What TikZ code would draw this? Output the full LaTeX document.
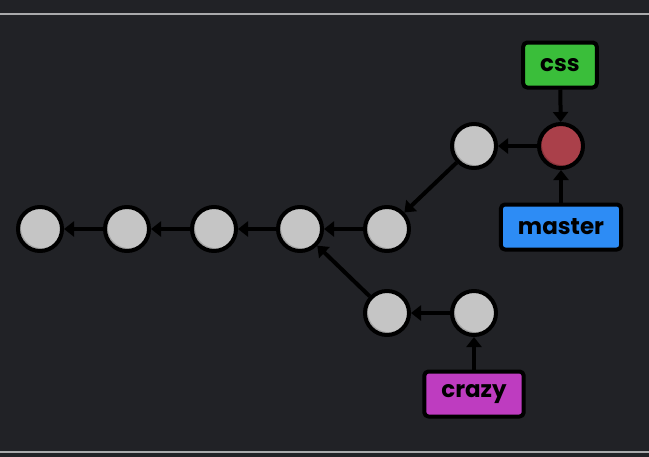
\documentclass[tikz,border=0pt]{standalone}
\usepackage{fontspec}
\setmainfont{Poppins}
\usetikzlibrary{arrows.meta}
\definecolor{bgdark}{RGB}{33,34,38}
\definecolor{rulegray}{RGB}{170,170,172}
\definecolor{commitgray}{RGB}{197,197,197}
\definecolor{commitshade}{RGB}{165,165,165}
\definecolor{headred}{RGB}{170,64,74}
\definecolor{headshade}{RGB}{140,50,58}
\definecolor{cssgreen}{RGB}{58,190,58}
\definecolor{masterblue}{RGB}{45,140,245}
\definecolor{crazypink}{RGB}{190,60,192}

\begin{document}
\begin{tikzpicture}[line cap=round,line join=round,>={Triangle[length=10pt,width=15pt]},x=1pt,y=-1pt]
\useasboundingbox (0,0) rectangle (649,456);
\fill [color=bgdark] (-3,-3) rectangle (652,459);
\draw [line width=1.5pt, line cap=butt, color=rulegray] (-3,14)-- (652,14);
\draw [line width=1.5pt, line cap=butt, color=rulegray] (-3,452)-- (652,452);

\tikzstyle{commit}= [circle, draw=black, line width=4pt, fill=commitshade, minimum size=44pt, inner sep=0pt,
  path picture={\fill [commitgray] ([shift={(1.5pt,1.5pt)}]path picture bounding box.center) circle (20.5pt);}];
\tikzstyle{headcommit}= [commit, fill=headshade,
  path picture={\fill [headred] ([shift={(1.5pt,1.5pt)}]path picture bounding box.center) circle (20.5pt);}];
\tikzstyle{branch}= [rectangle, rounded corners=4pt, draw=black, line width=4pt, minimum height=45pt,
  inner xsep=17pt, text=black, font=\bfseries\fontsize{23}{23}\selectfont];
\tikzstyle{link}= [->, line width=4pt, line cap=butt];

% main line
\node [commit] (c1) at (40,229) {};
\node [commit] (c2) at (127,229) {};
\node [commit] (c3) at (214,229) {};
\node [commit] (c4) at (300,229) {};
\node [commit] (c5) at (387,229) {};
% css line
\node [commit] (c6) at (474,146) {};
\node [headcommit] (c7) at (561,146) {};
% crazy line
\node [commit] (c8) at (387,313) {};
\node [commit] (c9) at (474,313) {};

\node [branch, fill=cssgreen] (css) at (560,65) {css};
\node [branch, fill=masterblue] (master) at (561,227) {master};
\node [branch, fill=crazypink] (crazy) at (474,394) {crazy};

\draw [link] (c2) -- (c1);
\draw [link] (c3) -- (c2);
\draw [link] (c4) -- (c3);
\draw [link] (c5) -- (c4);
\draw [link] (c6) -- (c5);
\draw [link] (c7) -- (c6);
\draw [link] (c8) -- (c4);
\draw [link] (c9) -- (c8);
\draw [link] (css) -- (c7);
\draw [link] (master) -- (c7);
\draw [link] (crazy) -- (c9);
\end{tikzpicture}
\end{document}
